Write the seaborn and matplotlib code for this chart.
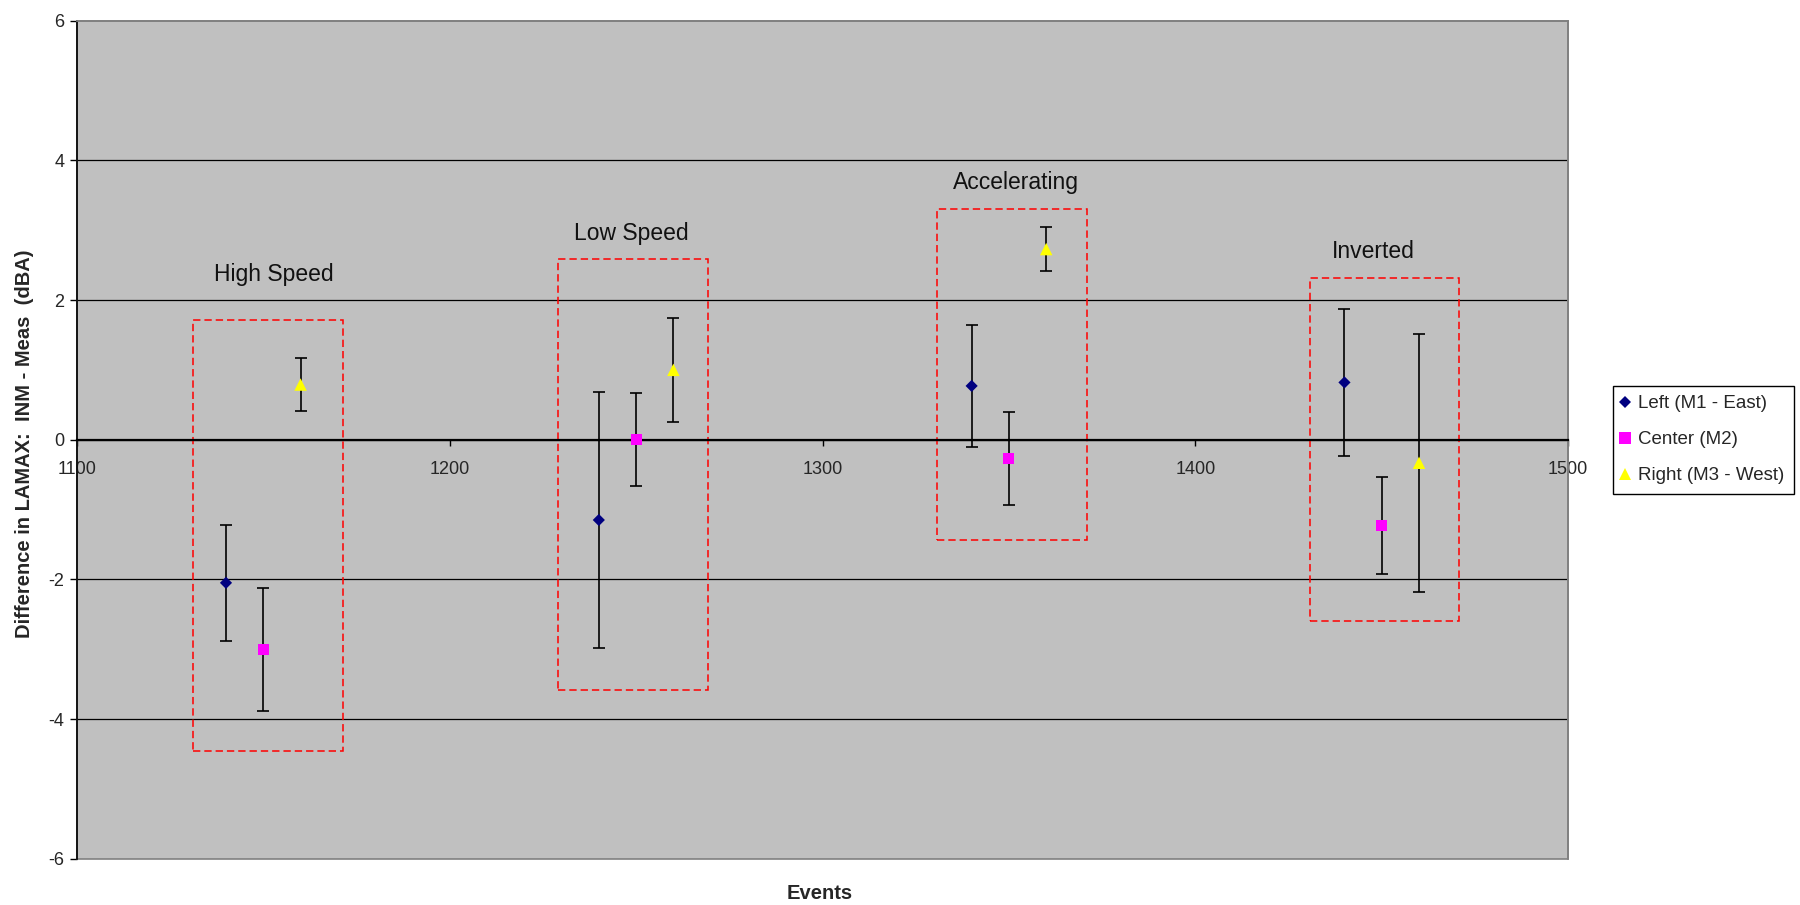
import matplotlib
matplotlib.use("Agg")
import matplotlib.pyplot as plt
from matplotlib.patches import Rectangle
from matplotlib.lines import Line2D
import seaborn as sns
import pandas as pd

# Series: event number, INM - measured difference (dBA), error half-width
series_names = ["Left (M1 - East)", "Center (M2)", "Right (M3 - West)"]

left_events = [1140, 1240, 1340, 1440]
left_diff = [-2.05, -1.15, 0.77, 0.82]
left_err = [0.83, 1.83, 0.87, 1.05]

center_events = [1150, 1250, 1350, 1450]
center_diff = [-3.01, 0.0, -0.27, -1.23]
center_err = [0.88, 0.67, 0.66, 0.69]

right_events = [1160, 1260, 1360, 1460]
right_diff = [0.79, 1.0, 2.73, -0.33]
right_err = [0.38, 0.74, 0.32, 1.85]

# Flight-condition groups and their highlight boxes
group_names = ["High Speed", "Low Speed", "Accelerating", "Inverted"]
group_label_x = [1152.7, 1248.7, 1351.9, 1447.7]
group_label_y = [2.36, 2.96, 3.68, 2.70]
box_x0 = [1131.2, 1229.1, 1330.8, 1430.8]
box_x1 = [1171.3, 1269.2, 1370.9, 1470.8]
box_y0 = [-4.46, -3.58, -1.43, -2.59]
box_y1 = [1.71, 2.59, 3.31, 2.32]

x_ticks = [1100, 1200, 1300, 1400, 1500]
y_ticks = [-6, -4, -2, 0, 2, 4, 6]

sns.set_theme(style="white")
plt.rcParams["font.family"] = ["Liberation Sans", "DejaVu Sans"]

df = pd.concat([
    pd.DataFrame({"event": left_events, "diff": left_diff, "err": left_err, "series": series_names[0]}),
    pd.DataFrame({"event": center_events, "diff": center_diff, "err": center_err, "series": series_names[1]}),
    pd.DataFrame({"event": right_events, "diff": right_diff, "err": right_err, "series": series_names[2]}),
], ignore_index=True)

styles = {
    series_names[0]: dict(marker="D", color="#000080", size=6.2),
    series_names[1]: dict(marker="s", color="#FF00FF", size=8.0),
    series_names[2]: dict(marker="^", color="#FFFF00", size=9.0),
}

fig = plt.figure(figsize=(18, 9.05), dpi=100)
fig.patch.set_facecolor("white")
ax = fig.add_axes([0.0427, 0.0512, 0.8285, 0.9259])
ax.set_facecolor("#C0C0C0")

for name in series_names:
    sub = df[df["series"] == name]
    st = styles[name]
    ax.errorbar(sub["event"], sub["diff"], yerr=sub["err"], fmt="none",
                ecolor="black", elinewidth=1.2, capsize=4.6, capthick=1.2, zorder=3)
    sns.scatterplot(data=sub, x="event", y="diff", marker=st["marker"],
                    color=st["color"], s=st["size"] ** 2, edgecolor="none",
                    linewidth=0, legend=False, ax=ax, zorder=4)

# Dashed group boxes and their captions
for name, lx, ly, x0, x1, y0, y1 in zip(group_names, group_label_x, group_label_y,
                                         box_x0, box_x1, box_y0, box_y1):
    ax.add_patch(Rectangle((x0, y0), x1 - x0, y1 - y0, fill=False,
                           edgecolor="#FF0000", linewidth=1.1,
                           linestyle=(0, (4.8, 2.6)), zorder=2))
    ax.text(lx, ly, name, ha="center", va="center", fontsize=16.5, color="#111111", zorder=5)

ax.set_xlim(1100, 1500)
ax.set_ylim(-6, 6)
ax.set_xticks(x_ticks)
ax.set_yticks(y_ticks)
ax.set_xticklabels([str(t) for t in x_ticks])
ax.set_yticklabels([str(t) for t in y_ticks])

ax.yaxis.grid(True, color="black", linewidth=0.9)
ax.xaxis.grid(False)
glines = ax.get_ygridlines()
glines[0].set_visible(False)
glines[-1].set_visible(False)
ax.set_axisbelow(True)

# Plot-area frame
ax.add_patch(Rectangle((0, 0), 1, 1, transform=ax.transAxes, fill=False,
                       edgecolor="#808080", linewidth=1.2, clip_on=False, zorder=1))
ax.spines["top"].set_color("#808080")
ax.spines["right"].set_color("#808080")
ax.spines["left"].set_color("black")
ax.spines["left"].set_linewidth(1.2)
ax.spines["bottom"].set_position(("data", 0))
ax.spines["bottom"].set_color("black")
ax.spines["bottom"].set_linewidth(1.6)
ax.spines["bottom"].set_zorder(2.5)

ax.tick_params(axis="x", direction="out", length=4, width=1, color="black",
               labelsize=13, pad=11.5, bottom=True)
ax.tick_params(axis="y", direction="out", length=5, width=1, color="black",
               labelsize=13, pad=4, left=True)

ax.set_ylabel("Difference in LAMAX:  INM - Meas  (dBA)", fontsize=14.5,
              fontweight="bold")
ax.yaxis.set_label_coords(-0.029, 0.495)
ax.set_xlabel("Events", fontsize=14.5, fontweight="bold")
ax.xaxis.set_label_coords(0.498, -0.041)
ax.xaxis.label.set_va("center")

handles = [Line2D([], [], linestyle="none", marker=styles[n]["marker"],
                  color=styles[n]["color"], markersize=styles[n]["size"],
                  markeredgewidth=0) for n in series_names]
leg = fig.legend(handles, series_names, loc="upper left",
                 bbox_to_anchor=(0.8959, 0.5735), fontsize=13.5, frameon=True,
                 fancybox=False, edgecolor="black", framealpha=1,
                 handlelength=0.3, handletextpad=0.55, borderpad=0.5,
                 labelspacing=1.0, borderaxespad=0)
leg.get_frame().set_linewidth(1.0)

fig.savefig("out.png", dpi=100, facecolor="white")
